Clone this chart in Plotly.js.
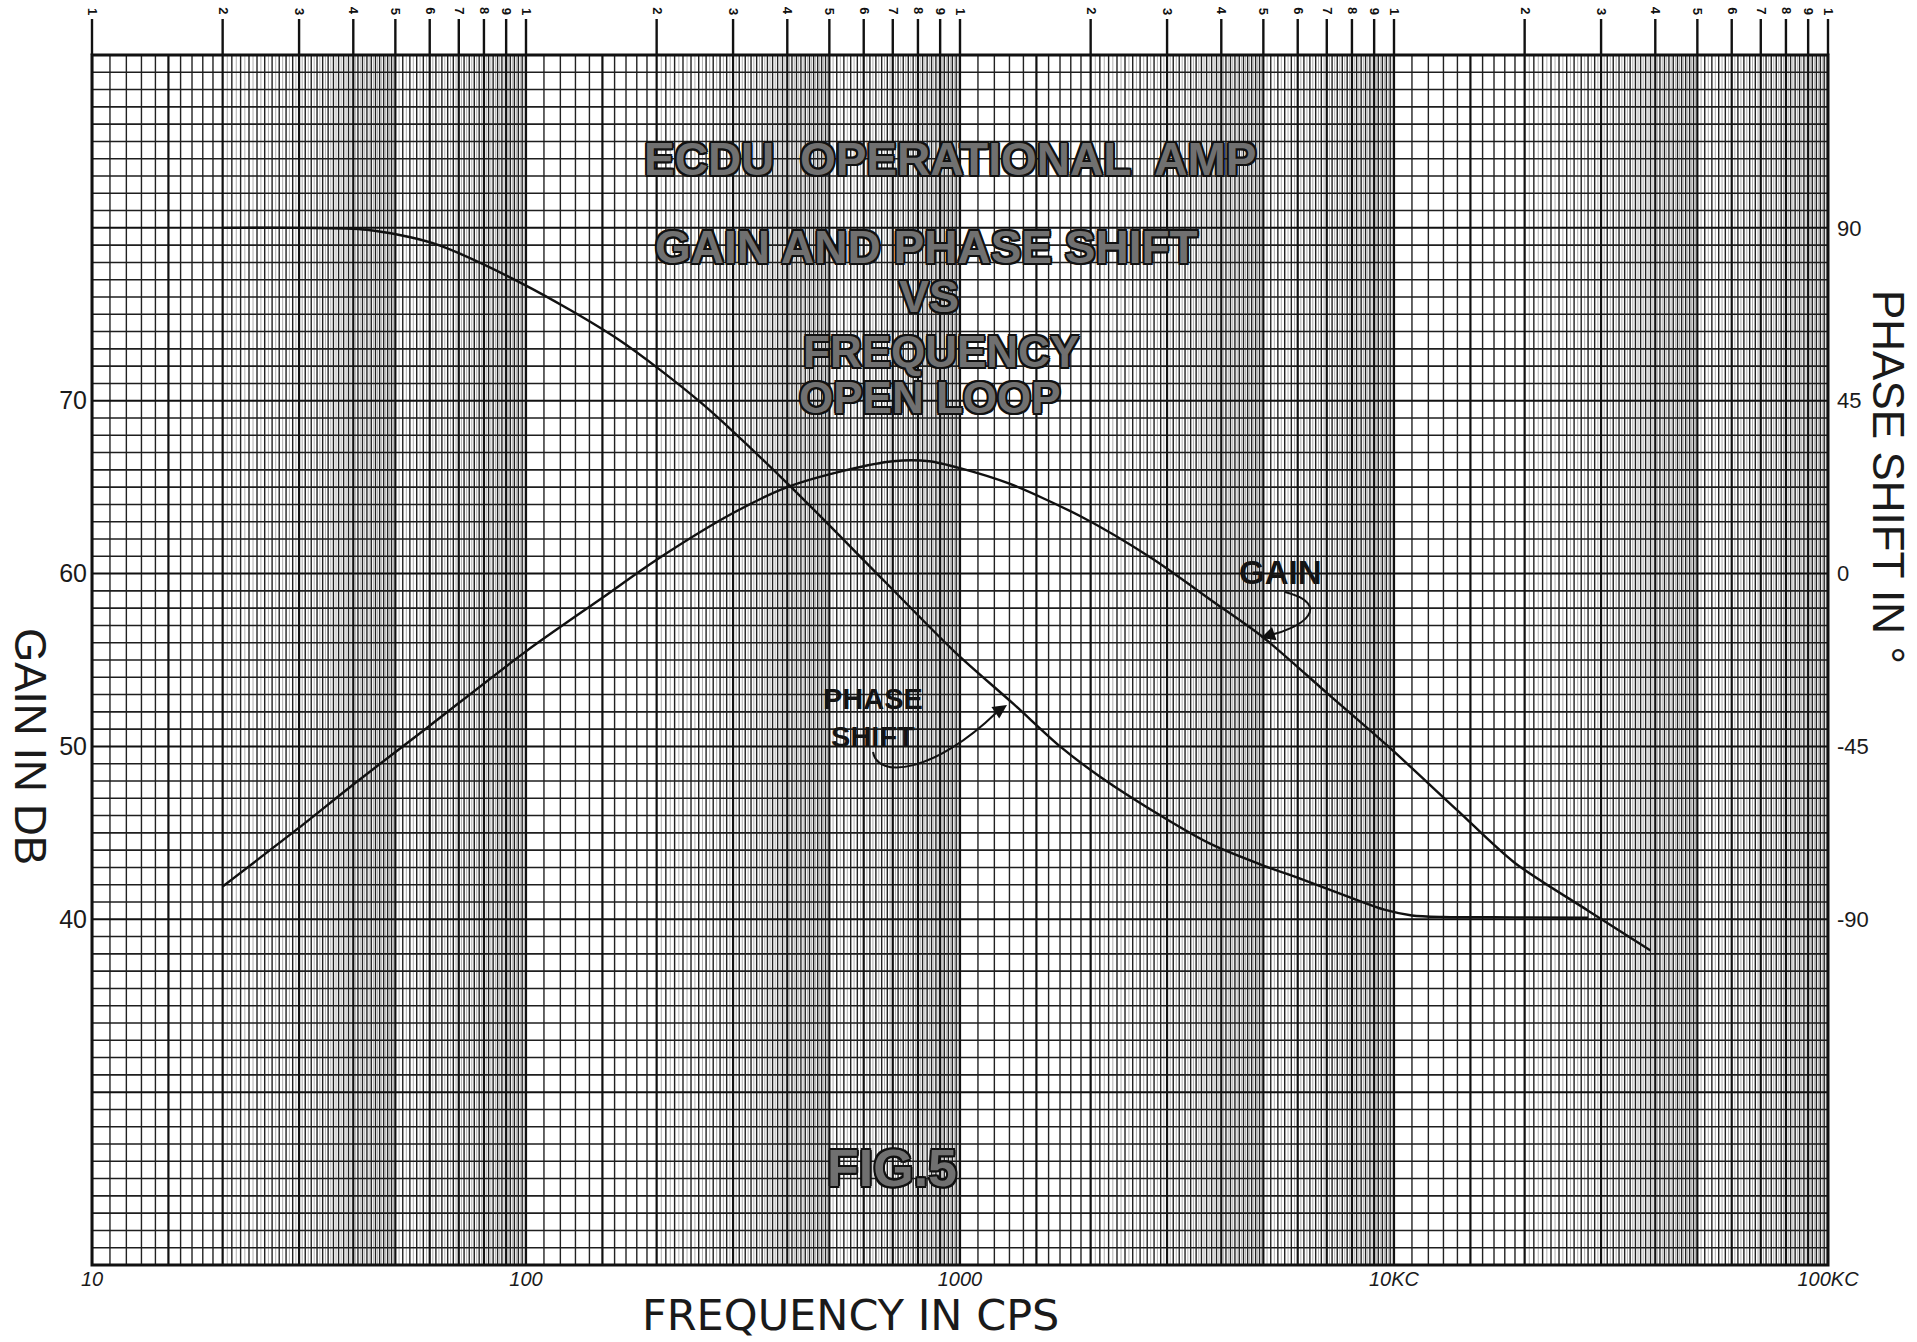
<!DOCTYPE html>
<html><head><meta charset="utf-8">
<script src="https://cdn.plot.ly/plotly-3.0.1.min.js"></script>
<style>html,body{margin:0;padding:0;background:#fff;}</style>
</head><body><div id="chart" style="width:1917px;height:1342px;"></div>
<script>
// ---- data ----
const gainFreq = [20, 30, 40, 60, 100, 150, 200, 300, 400, 550, 700, 850, 1000, 1300, 1900, 2760, 3870, 5000, 7000, 9700, 14000, 18900, 28000, 39000];
const gainDb   = [41.9, 45.3, 47.8, 51.2, 55.5, 58.6, 60.8, 63.5, 65.0, 66.0, 66.5, 66.5, 66.1, 65.2, 63.3, 60.9, 58.3, 56.3, 53.1, 50.0, 46.3, 43.3, 40.5, 38.2];
const phaseFreq = [20, 30, 43, 61, 98, 163, 253, 400, 670, 975, 1330, 1700, 2110, 3000, 3800, 5000, 6100, 8000, 9500, 11000, 13000, 18900, 28000];
const phaseDeg  = [90, 90, 89.5, 86, 75.5, 61, 44.5, 23.5, -2, -20.5, -34, -45, -53, -64, -70.5, -76, -79.5, -84.5, -87.5, -89, -89.4, -89.5, -89.6];
const xTickVals = [10, 100, 1000, 10000, 100000];
const xTickText = ['10', '100', '1000', '10KC', '100KC'];
const gainTickVals = [40, 50, 60, 70];
const gainTickText = ['40', '50', '60', '70'];
const phaseTickVals = [-90, -45, 0, 45, 90];
const phaseTickText = ['-90', '-45', '0', '45', '90'];
const titleLines = ['ECDU  OPERATIONAL  AMP', 'GAIN AND PHASE SHIFT', 'VS', 'FREQUENCY', 'OPEN LOOP'];
const figLabel = 'FIG.5';
const cycleDigits = ['1','2','3','4','5','6','7','8','9'];

// ---- layout geometry ----
const W = 1917, H = 1342;
const M = {l: 92, r: 89, t: 55, b: 77};
const PW = W - M.l - M.r, PH = H - M.t - M.b;
const GMIN = 20, GMAX = 90, PMIN = -180, PMAX = 135;
const px = xf => (xf - M.l) / PW;          // page pixel -> paper x
const py = yf => (H - M.b - yf) / PH;      // page pixel -> paper y

// ---- graph-paper grid (built as line traces on the chart axes) ----
const decades = [10, 100, 1000, 10000];
function vSet(freqs) {
  const xs = [], ys = [];
  freqs.forEach(f => { xs.push(f, f, null); ys.push(GMIN, GMAX, null); });
  return {xs, ys};
}
const heavyF = [], medF = [], fineF = [];
decades.forEach(d => {
  for (let h = 100; h < 1000; h += 5) {      // h = multiplier * 100
    const f = d * h / 100;
    if (h % 100 === 0 || h === 150) heavyF.push(f);
    else if (h < 200) { if (h % 10 === 0) medF.push(f); }
    else if (h < 500) { if (h % 10 === 0) medF.push(f); else fineF.push(f); }
    else { if (h % 20 === 0) medF.push(f); else if (h % 10 === 0) fineF.push(f); }
  }
});
heavyF.push(100000);
const hv = vSet(heavyF), md = vSet(medF), fn = vSet(fineF);
const hxsN = [], hysN = [], hxsH = [], hysH = [];
for (let g = GMIN + 1; g < GMAX; g++) {
  if (g % 10 === 0) { hxsH.push(10, 100000, null); hysH.push(g, g, null); }
  else { hxsN.push(10, 100000, null); hysN.push(g, g, null); }
}
const gridTrace = (x, y, w, c) => ({x, y, type: 'scatter', mode: 'lines', line: {width: w, color: c},
  hoverinfo: 'skip', showlegend: false, xaxis: 'x', yaxis: 'y'});

const traces = [
  gridTrace(fn.xs, fn.ys, 0.7, '#8c8c8c'),
  gridTrace(md.xs, md.ys, 1.4, '#222'),
  gridTrace(hxsN, hysN, 1.6, '#1e1e1e'),
  gridTrace(hxsH, hysH, 2.0, '#111'),
  gridTrace(hv.xs, hv.ys, 2.2, '#111'),
  {x: gainFreq, y: gainDb, type: 'scatter', mode: 'lines', name: 'GAIN',
   line: {color: '#111', width: 2.4, shape: 'spline', smoothing: 0.8}, xaxis: 'x', yaxis: 'y', showlegend: false},
  {x: phaseFreq, y: phaseDeg, type: 'scatter', mode: 'lines', name: 'PHASE SHIFT',
   line: {color: '#111', width: 2.4, shape: 'spline', smoothing: 0.8}, xaxis: 'x', yaxis: 'y2', showlegend: false}
];

// ---- shapes: frame, top cycle ticks, hand arrows ----
const shapes = [
  {type: 'rect', xref: 'paper', yref: 'paper', x0: 0, x1: 1, y0: 0, y1: 1, line: {color: '#111', width: 3}}
];
const annotations = [];
const topTickLen = 36 / PH;
const cycleFreqs = [];
decades.forEach(d => cycleDigits.forEach((s, i) => cycleFreqs.push({f: d * (i + 1), s})));
cycleFreqs.push({f: 100000, s: '1'});
cycleFreqs.forEach(o => {
  const xp = (Math.log10(o.f) - 1) / 4;
  shapes.push({type: 'line', xref: 'paper', yref: 'paper', x0: xp, x1: xp, y0: 1, y1: 1 + topTickLen,
    line: {color: '#111', width: 2.4}});
  annotations.push({xref: 'paper', yref: 'paper', x: xp, y: py(11), xanchor: 'center', yanchor: 'middle',
    text: '<b>' + o.s + '</b>', showarrow: false, textangle: 90,
    font: {family: 'Liberation Sans, Arial, sans-serif', size: 13, color: '#111'}});
});
// GAIN arrow
shapes.push({type: 'path', xref: 'paper', yref: 'paper',
  path: `M ${px(1285)} ${py(592)} C ${px(1332)} ${py(604)} ${px(1306)} ${py(628)} ${px(1266)} ${py(636)}`,
  line: {color: '#111', width: 2}});
annotations.push({xref: 'paper', yref: 'paper', x: px(1261), y: py(638), ax: 12, ay: -4, text: '',
  showarrow: true, arrowhead: 2, arrowsize: 1.4, arrowwidth: 2, arrowcolor: '#111', standoff: 0});
// PHASE SHIFT arrow
shapes.push({type: 'path', xref: 'paper', yref: 'paper',
  path: `M ${px(873)} ${py(752)} C ${px(878)} ${py(780)} ${px(935)} ${py(772)} ${px(996)} ${py(713)}`,
  line: {color: '#111', width: 2}});
annotations.push({xref: 'paper', yref: 'paper', x: px(1007), y: py(705), ax: -12, ay: 8, text: '',
  showarrow: true, arrowhead: 2, arrowsize: 1.4, arrowwidth: 2, arrowcolor: '#111', standoff: 0});

// ---- text ----
const outline = '1.6px 1.6px 0 #111, -1.6px -1.6px 0 #111, 1.6px -1.6px 0 #111, -1.6px 1.6px 0 #111, 0 2px 0 #111, 0 -2px 0 #111, 2px 0 0 #111, -2px 0 0 #111';
const stencilFont = (size) => ({family: 'Liberation Sans, Arial, sans-serif', size, color: '#707070', weight: 700, shadow: outline});
const boldFont = (size) => ({family: 'Liberation Sans, Arial, sans-serif', size, color: '#141414', weight: 700});
const handFont = (size, fam) => ({family: fam || 'Liberation Sans, Arial, sans-serif', size, color: '#1a1a1a'});
const ann = (x, y, text, font, extra) => Object.assign({xref: 'paper', yref: 'paper', x: px(x), y: py(y), text,
  showarrow: false, font, xanchor: 'center', yanchor: 'middle'}, extra || {});
const titlePos = [[950, 159, 46], [926, 247, 46], [929, 296, 45], [941, 351, 44], [930, 397, 44]];
titleLines.forEach((t, i) => annotations.push(ann(titlePos[i][0], titlePos[i][1], '<b>' + t + '</b>', stencilFont(titlePos[i][2]))));
annotations.push(ann(892, 1168, '<b>' + figLabel + '</b>', stencilFont(52)));
annotations.push(ann(1280, 572, '<b>GAIN</b>', boldFont(33)));
annotations.push(ann(873, 718, '<b>PHASE<br>SHIFT</b>', boldFont(29)));
annotations.push(ann(31, 746, 'GAIN IN DB', handFont(44), {textangle: 90}));
annotations.push(ann(1889, 477, 'PHASE SHIFT IN °', handFont(44), {textangle: 90}));
annotations.push(ann(850, 1315, 'FREQUENCY IN CPS', handFont(43, 'DejaVu Sans, Liberation Sans, sans-serif')));

const layout = {
  width: W, height: H,
  margin: M,
  paper_bgcolor: '#ffffff', plot_bgcolor: '#ffffff',
  showlegend: false,
  xaxis: {type: 'log', range: [1, 5], showgrid: false, zeroline: false, showline: false, ticks: '',
    tickvals: xTickVals, ticktext: xTickText, ticklabelstandoff: 0,
    tickfont: {family: 'Liberation Sans, Arial, sans-serif', size: 20, style: 'italic', color: '#1a1a1a'}},
  yaxis: {range: [GMIN, GMAX], showgrid: false, zeroline: false, showline: false, ticks: '',
    tickvals: gainTickVals, ticktext: gainTickText, ticklabelstandoff: 4,
    tickfont: {family: 'Liberation Sans, Arial, sans-serif', size: 25, color: '#1a1a1a'}},
  yaxis2: {range: [PMIN, PMAX], overlaying: 'y', side: 'right', showgrid: false, zeroline: false, showline: false,
    ticks: '', tickvals: phaseTickVals, ticktext: phaseTickText, ticklabelstandoff: 8,
    tickfont: {family: 'Liberation Sans, Arial, sans-serif', size: 22, color: '#1a1a1a'}},
  shapes, annotations
};
Plotly.newPlot('chart', traces, layout, {staticPlot: true, displayModeBar: false});
</script></body></html>
